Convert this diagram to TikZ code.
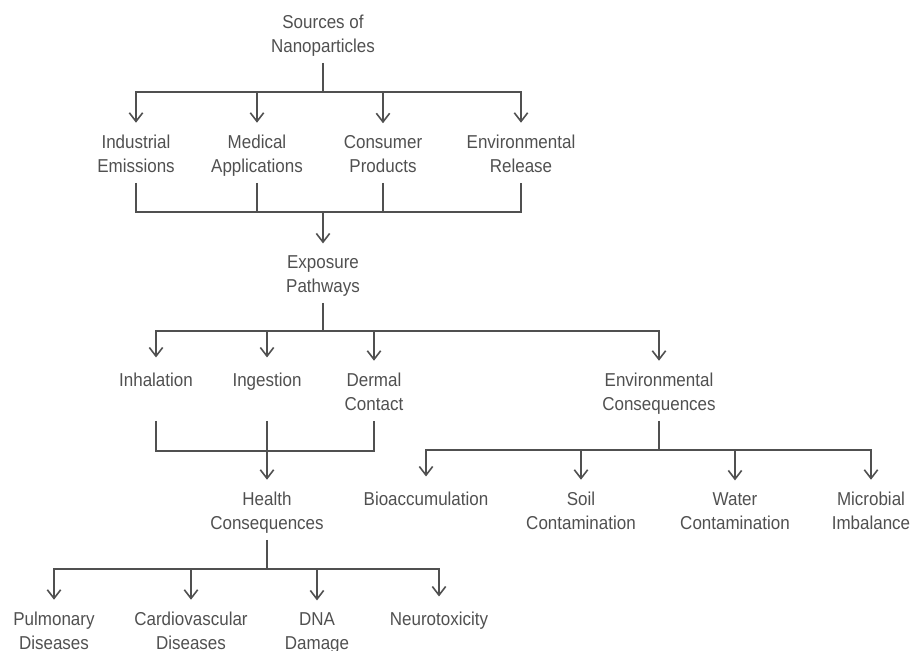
\documentclass[tikz,border=0pt]{standalone}
\usepackage{fontspec}
\setmainfont[FakeStretch=0.91]{Liberation Sans}
\usetikzlibrary{arrows.meta}
\definecolor{inkgray}{HTML}{505050}

\begin{document}
\begin{tikzpicture}[x=0.75pt, y=-0.75pt,
    lbl/.style={anchor=base, align=center, inner xsep=2pt, inner ysep=0pt, outer ysep=2.8pt,
        text=inkgray, font=\fontsize{14}{18}\selectfont,
        execute at begin node=\strut, execute at end node=\strut},
    ln/.style={draw=inkgray, line width=1.2pt},
    arr/.style={ln, -{Straight Barb[length=6.5pt,width=10pt]}, shorten >=6pt}]
    \useasboundingbox (0,0) rectangle (914,650);

    % sources
    \node[lbl] (src) at (323,52) {Sources of\\Nanoparticles};
    \node[lbl] (ind) at (136,172) {Industrial\\Emissions};
    \node[lbl] (med) at (257,172) {Medical\\Applications};
    \node[lbl] (con) at (383,172) {Consumer\\Products};
    \node[lbl] (env) at (521,172) {Environmental\\Release};

    % pathways
    \node[lbl] (exp) at (323,292) {Exposure\\Pathways};
    \node[lbl] (inh) at (156,386) {Inhalation};
    \node[lbl] (ing) at (267,386) {Ingestion};
    \node[lbl] (der) at (374,410) {Dermal\\Contact};
    \node[lbl] (envc) at (659,410) {Environmental\\Consequences};

    % consequences
    \node[lbl] (hlth) at (267,529) {Health\\Consequences};
    \node[lbl] (bio) at (426,505) {Bioaccumulation};
    \node[lbl] (soil) at (581,529) {Soil\\Contamination};
    \node[lbl] (wat) at (735,529) {Water\\Contamination};
    \node[lbl] (mic) at (871,529) {Microbial\\Imbalance};
    \node[lbl] (pul) at (54,649) {Pulmonary\\Diseases};
    \node[lbl] (car) at (191,649) {Cardiovascular\\Diseases};
    \node[lbl] (dna) at (317,649) {DNA\\Damage};
    \node[lbl] (neu) at (439,625) {Neurotoxicity};

    \coordinate (srcbar) at (323,92);
    \coordinate (srcjoin) at (323,212);
    \coordinate (expbar) at (323,331);
    \coordinate (hjoin) at (267,451);
    \coordinate (envbar) at (659,450);
    \coordinate (hbar) at (267,569);

    \draw[ln] (src.south) -- (srcbar);
    \draw[arr] (srcbar) -| (ind.north);
    \draw[arr] (srcbar) -| (med.north);
    \draw[arr] (srcbar) -| (con.north);
    \draw[arr] (srcbar) -| (env.north);

    \draw[ln] (ind.south) |- (env.south |- srcjoin) -- (env.south);
    \draw[ln] (med.south) -- (med.south |- srcjoin);
    \draw[ln] (con.south) -- (con.south |- srcjoin);
    \draw[arr] (srcjoin) -- (exp.north);

    \draw[ln] (exp.south) -- (expbar);
    \draw[arr] (expbar) -| (inh.north);
    \draw[arr] (expbar) -| (ing.north);
    \draw[arr] (expbar) -| (der.north);
    \draw[arr] (expbar) -| (envc.north);

    \draw[ln] (inh.south |- der.south) |- (der.south |- hjoin) -- (der.south);
    \draw[ln] (ing.south |- der.south) -- (hjoin);
    \draw[arr] (hjoin) -- (hlth.north);

    \draw[ln] (envc.south) -- (envbar);
    \draw[arr] (envbar) -| (bio.north);
    \draw[arr] (envbar) -| (soil.north);
    \draw[arr] (envbar) -| (wat.north);
    \draw[arr] (envbar) -| (mic.north);

    \draw[ln] (hlth.south) -- (hbar);
    \draw[arr] (hbar) -| (pul.north);
    \draw[arr] (hbar) -| (car.north);
    \draw[arr] (hbar) -| (dna.north);
    \draw[arr] (hbar) -| (neu.north);
\end{tikzpicture}
\end{document}
